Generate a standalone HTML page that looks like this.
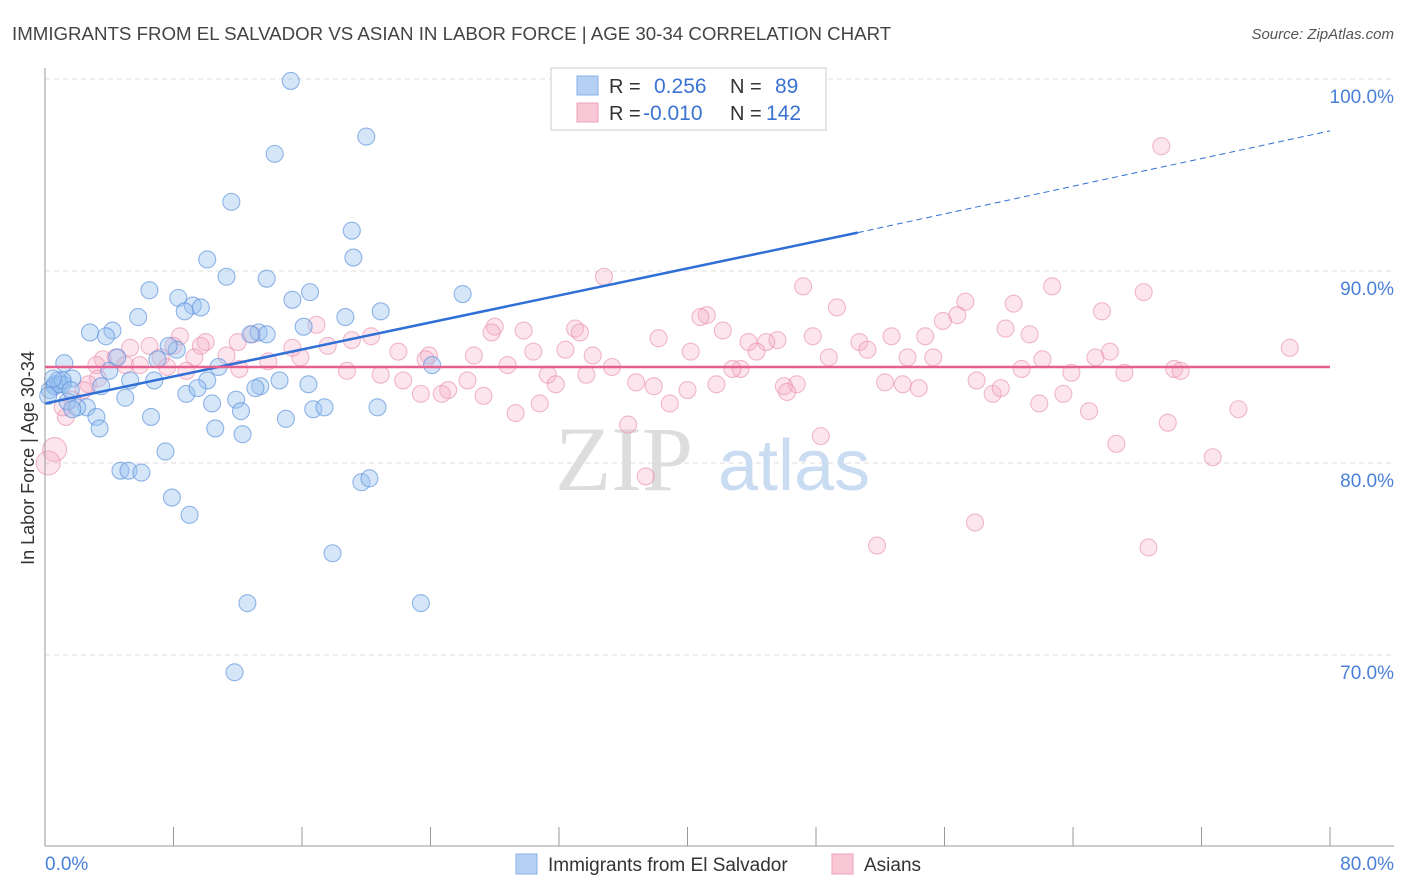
<!DOCTYPE html>
<html><head><meta charset="utf-8"><style>
body{margin:0;background:#fff;font-family:"Liberation Sans",sans-serif;}
svg{display:block}
</style></head><body>
<svg id="chart" width="1406" height="892" xmlns="http://www.w3.org/2000/svg">
<text x="12" y="40" font-size="18.7" fill="#444">IMMIGRANTS FROM EL SALVADOR VS ASIAN IN LABOR FORCE | AGE 30-34 CORRELATION CHART</text>
<text x="1394" y="39" font-size="15" fill="#555" font-style="italic" text-anchor="end">Source: ZipAtlas.com</text>
<g id="grid"></g>
<text x="555" y="490" font-size="92" fill="#ddd" font-family="Liberation Serif,serif">ZIP</text>
<text x="718" y="490" font-size="72" fill="#c9dcf2">atlas</text>
<g id="pts"></g>
<g id="trend"></g>
<line x1="45" y1="68" x2="45" y2="846" stroke="#999"/>
<line x1="45" y1="846" x2="1394" y2="846" stroke="#999"/>
<g id="ticks"></g>
<text x="34" y="458" font-size="18" fill="#333" text-anchor="middle" transform="rotate(-90 34 458)">In Labor Force | Age 30-34</text>
<text x="45" y="870" font-size="19" fill="#4a80d8">0.0%</text>
<text x="1394" y="870" font-size="19" fill="#4a80d8" text-anchor="end">80.0%</text>
<g>
<rect x="551" y="68" width="275" height="62" fill="#fff" stroke="#ccc"/>
<rect x="577" y="76" width="21" height="19" fill="#b6d0f3" stroke="#8ab0e8"/>
<rect x="577" y="103" width="21" height="19" fill="#f8c8d6" stroke="#eea0bb"/>
<text x="609" y="93" font-size="20" fill="#333">R =</text>
<text x="654" y="93" font-size="21" fill="#3b73d1">0.256</text>
<text x="730" y="93" font-size="20" fill="#333">N =</text>
<text x="775" y="93" font-size="21" fill="#3b73d1">89</text>
<text x="609" y="120" font-size="20" fill="#333">R =</text>
<text x="643" y="120" font-size="21" fill="#3b73d1">-0.010</text>
<text x="730" y="120" font-size="20" fill="#333">N =</text>
<text x="766" y="120" font-size="21" fill="#3b73d1">142</text>
</g>
<g>
<rect x="516" y="854" width="21" height="20" fill="#b6d0f3" stroke="#8ab0e8"/>
<text x="548" y="871" font-size="19" fill="#333">Immigrants from El Salvador</text>
<rect x="832" y="854" width="21" height="20" fill="#f8c8d6" stroke="#eea0bb"/>
<text x="864" y="871" font-size="19" fill="#333">Asians</text>
</g>
</svg>
<script>
const yTicks=[100,90,80,70];
const yTickLabels=["100.0%","90.0%","80.0%","70.0%"];
const xTicks=[0,8,16,24,32,40,48,56,64,72,80];
const blueX=[15.3,20.0,14.3,11.6,19.1,19.2,10.1,11.3,13.8,6.5,16.5,15.4,26.0,8.3,9.2,9.7,8.7,20.9,5.8,18.7,16.1,2.8,4.2,3.8,13.3,13.8,12.8,8.2,7.7,1.2,7.0,4.5,24.1,10.8,4.0,1.7,6.8,5.3,0.6,1.1,14.6,16.4,3.5,10.1,8.8,9.5,13.4,13.1,5.0,11.9,10.4,1.4,2.6,2.0,1.7,12.2,16.7,17.4,20.7,3.2,6.6,15.0,3.4,10.6,12.3,7.5,4.7,5.2,6.0,19.7,20.2,7.9,9.0,17.9,12.6,23.4,11.8,0.8,0.3,0.6,0.9,0.2,1.1,1.6,0.5,43.0];
const blueY=[99.9,97.0,96.1,93.6,92.1,90.7,90.6,89.7,89.6,89.0,88.9,88.5,88.8,88.6,88.2,88.1,87.9,87.9,87.6,87.6,87.1,86.8,86.9,86.6,86.8,86.7,86.7,85.9,86.1,85.2,85.4,85.5,85.1,85.0,84.8,84.4,84.3,84.3,84.1,84.1,84.3,84.1,84.0,84.3,83.6,83.9,84.0,83.9,83.4,83.3,83.1,83.2,82.9,82.9,82.8,82.7,82.8,82.9,82.9,82.4,82.4,82.3,81.8,81.8,81.5,80.6,79.6,79.6,79.5,79.0,79.2,78.2,77.3,75.3,72.7,72.7,69.1,84.3,83.8,84.0,84.1,83.5,84.3,83.8,84.4,100.0];
const pinkX=[69.5,34.8,47.2,62.7,57.3,68.4,49.3,60.3,56.8,55.9,65.8,41.2,40.8,42.2,28.0,16.9,29.8,27.8,33.0,33.3,59.8,61.3,8.4,12.9,20.3,52.7,54.8,38.2,47.8,43.8,45.6,10.0,12.0,19.1,44.9,50.7,5.3,6.5,8.0,9.7,15.4,17.6,30.4,32.4,34.1,40.2,23.9,26.7,48.8,51.2,44.3,53.7,66.3,65.4,55.3,62.1,3.6,4.4,7.2,9.3,11.3,13.9,15.9,22.0,23.7,35.3,28.8,43.3,42.8,60.8,63.9,67.2,70.3,70.7,77.5,3.2,5.0,5.9,7.6,8.8,12.1,18.8,20.9,22.3,31.3,33.7,26.3,25.1,31.8,36.8,37.9,40.0,41.8,46.8,46.0,46.2,52.3,53.4,54.4,58.0,59.0,59.5,63.4,23.4,24.7,27.3,30.8,38.9,29.3,61.9,65.0,74.3,36.3,48.3,66.7,69.9,72.7,37.4,57.9,51.8,68.7,0.6,0.2,1.3,2.7,2.4,3.3,1.7,1.1];
const pinkY=[96.5,89.7,89.2,89.2,88.4,88.9,88.1,88.3,87.7,87.4,87.9,87.7,87.6,86.9,87.1,87.2,86.9,86.8,87.0,86.8,87.0,86.7,86.6,86.7,86.6,86.6,86.6,86.5,86.6,86.3,86.4,86.3,86.3,86.4,86.3,86.3,86.0,86.1,86.1,86.1,86.0,86.1,85.8,85.9,85.6,85.8,85.6,85.6,85.5,85.9,85.8,85.5,85.8,85.5,85.5,85.4,85.4,85.5,85.5,85.5,85.6,85.3,85.5,85.8,85.4,85.0,85.1,84.9,84.9,84.9,84.7,84.7,84.9,84.8,86.0,85.1,85.1,85.1,85.0,84.8,84.9,84.8,84.6,84.3,84.6,84.6,84.3,83.8,84.1,84.2,84.0,83.8,84.1,84.1,84.0,83.7,84.2,84.1,83.9,84.3,83.6,83.9,83.6,83.6,83.6,83.5,83.1,83.1,82.6,83.1,82.7,82.8,82.0,81.4,81.0,82.1,80.3,79.3,76.9,75.7,75.6,80.7,80.0,82.4,84.1,83.8,84.4,83.3,82.9];
const blueTrend=[0,83.1,50.6,92.0,80,97.3];
const pinkTrend=[0,85.0,80,85.0];
const NS="http://www.w3.org/2000/svg";
const sx=v=>45+v/80*1285;
const sy=v=>79+(100-v)*19.2;
function mk(t,a,p){const e=document.createElementNS(NS,t);for(const k in a)e.setAttribute(k,a[k]);p.appendChild(e);return e;}
const grid=document.getElementById('grid');
yTicks.forEach((t,i)=>{
 const l=mk('line',{x1:45,x2:1394,y1:sy(t),y2:sy(t),stroke:'#ddd','stroke-dasharray':'5,4'},grid);
 
 
 const tx=mk('text',{x:1394,y:sy(t)+24,'font-size':19,fill:'#4a80d8','text-anchor':'end'},grid);
 tx.textContent=yTickLabels[i];
 
 
});
const ticks=document.getElementById('ticks');
xTicks.forEach(t=>{
 const l=mk('line',{x1:sx(t),x2:sx(t),y1:827,y2:846,stroke:'#999'},ticks);
 
 
});
const pts=document.getElementById('pts');
pinkX.forEach((x,i)=>{
 const r=(x<1.5&&pinkY[i]<82)?12:8.5;
 const c=mk('circle',{cx:sx(x),cy:sy(pinkY[i]),r:r,fill:'rgba(245,175,200,0.32)',stroke:'rgba(232,140,172,0.6)','stroke-width':1.1},pts);
 
 
});
blueX.forEach((x,i)=>{
 const c=mk('circle',{cx:sx(x),cy:sy(blueY[i]),r:8.5,fill:'rgba(155,195,240,0.42)',stroke:'rgba(90,145,220,0.65)','stroke-width':1.1},pts);
 
 
});
const tr=document.getElementById('trend');
const b1=mk('line',{x1:sx(blueTrend[0]),y1:sy(blueTrend[1]),x2:sx(blueTrend[2]),y2:sy(blueTrend[3]),stroke:'#2f6fd6','stroke-width':2.5},tr);


const b2=mk('line',{x1:sx(blueTrend[2]),y1:sy(blueTrend[3]),x2:sx(blueTrend[4]),y2:sy(blueTrend[5]),stroke:'#2f6fd6','stroke-width':1,'stroke-dasharray':'6,4'},tr);


const p1=mk('line',{x1:sx(pinkTrend[0]),y1:sy(pinkTrend[1]),x2:sx(pinkTrend[2]),y2:sy(pinkTrend[3]),stroke:'#e5608e','stroke-width':2.5},tr);


</script>
</body></html>
